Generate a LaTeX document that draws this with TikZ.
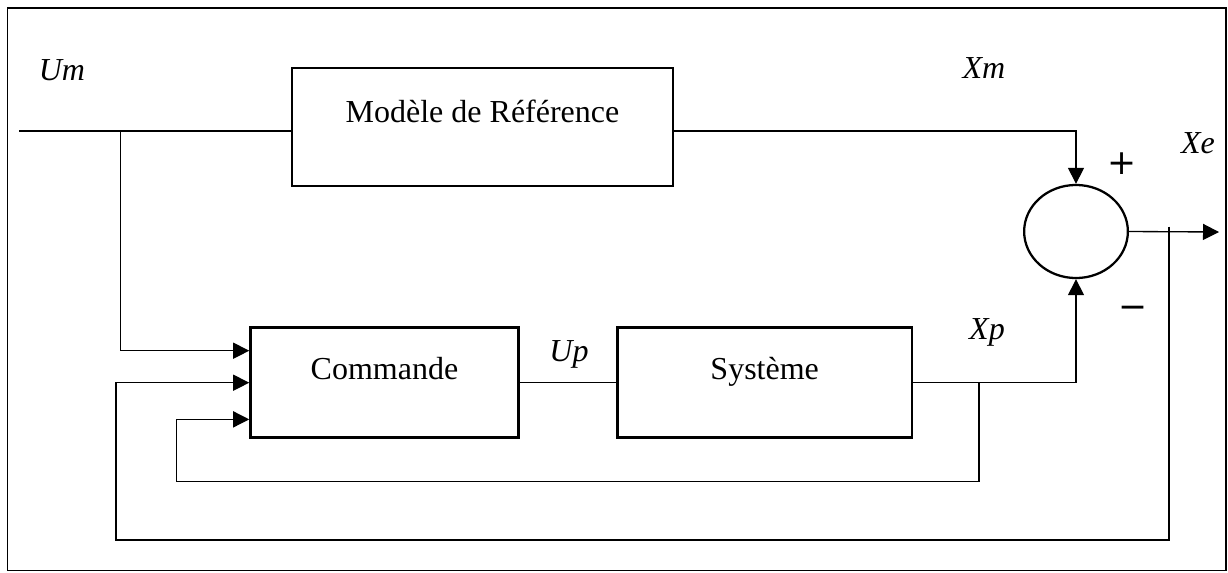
\documentclass[tikz,border=0pt]{standalone}
\usepackage{fontspec}
\setmainfont{Liberation Serif}
\newfontfamily\signfont{DejaVu Sans}
\usetikzlibrary{arrows.meta,shapes.geometric,fit}

\begin{document}
\begin{tikzpicture}[x=0.75pt,y=-0.75pt,
  blockbox/.style={draw,line width=2.2pt,inner sep=0pt},
  sumnode/.style={draw,ellipse,line width=1.7pt,inner sep=0pt,minimum width=77.8pt,minimum height=69.8pt},
  wire/.style={line width=1pt},
  arr/.style={wire,-{Triangle[length=12pt,width=12pt]}},
  boxlabel/.style={anchor=base,inner sep=0pt,font=\fontsize{24}{28}\selectfont},
  siglabel/.style={anchor=base,inner sep=0pt,font=\fontsize{24}{28}\selectfont\itshape},
  signmark/.style={inner sep=0pt,font=\signfont\fontsize{26}{30}\selectfont}]
\useasboundingbox (0,0) rectangle (1228,572);
\fill[white] (0,0) rectangle (1228,572);
\draw[line width=1.25pt] (7.5,8) rectangle (1226,570.5);

% blocks
\node[blockbox,fit={(292,68)(673,186)}] (model) {};
\node[blockbox,fit={(250.7,327.7)(518.3,437.7)}] (cmd) {};
\node[blockbox,fit={(617.3,327.7)(912,437.7)}] (sys) {};
\node[sumnode] (sum) at (1076,231.5) {};

% block texts
\node[boxlabel] (tmodel) at (482.5,122.7) {Modèle de Référence};
\node[boxlabel] (tcmd) at (384.5,379.3) {Commande};
\node[boxlabel] (tsys) at (764.7,379.3) {Système};

% signal names and signs
\node[siglabel] (um) at (62,80) {Um};
\node[siglabel] (xm) at (984,78) {Xm};
\node[siglabel] (xe) at (1198,153) {Xe};
\node[siglabel] (up) at (569,361) {Up};
\node[siglabel] (xp) at (987,339) {Xp};
\node[signmark] (plus) at (1122,164) {+};
\node[signmark] (minus) at (1133,312) {−};

% branch points and free ends
\coordinate (in) at (19,131);
\coordinate (split) at (120.5,131);
\coordinate (xpsplit) at (979,382.7);
\coordinate (xploop) at (176.7,481.7);
\coordinate (out) at (1219,232);
\coordinate (outsplit) at (1169,232);
\coordinate (outloop) at (116,540);

% connectors
\draw[wire] (in) -- (in -| model.west);
\draw[arr] (split) |- ([yshift=24pt]cmd.west);
\draw[arr] ([yshift=-3pt]model.east) -| (sum.north);
\draw[wire] (cmd.east) -- (sys.west);
\draw[arr] (sys.east) -| (sum.south);
\draw[arr] (sum.east) -- (out);
\draw[arr] (xpsplit) |- (xploop) |- ([yshift=-27.5pt]cmd.west);
\draw[arr] ([yshift=4pt]outsplit) |- (outloop) |- (cmd.west);
\end{tikzpicture}
\end{document}
